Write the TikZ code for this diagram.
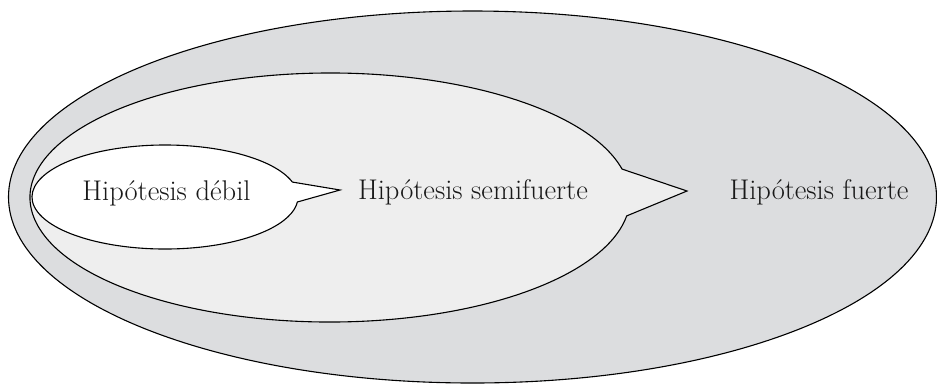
\documentclass[tikz,border=0pt]{standalone}
\begin{document}
\begin{tikzpicture}[x=1pt,y=-1pt,
  region/.style={draw=black,line width=1.1pt,line join=miter},
  lbl/.style={anchor=base,inner sep=0pt,font=\fontsize{28.5}{34}\selectfont,text=black!90}]
\definecolor{outerfill}{HTML}{DCDDDF}
\definecolor{midfill}{HTML}{EEEEEE}
\useasboundingbox (0,0) rectangle (937,384);
% outer ellipse
\draw[region,fill=outerfill] (472.5,197) ellipse[x radius=464,y radius=186];
% middle region with pointer
\draw[region,fill=midfill] (330,197.5) ++(-13.2:300 and 124.5)
  arc[start angle=-13.2,end angle=-351.5,x radius=300,y radius=124.5]
  -- (687,191) -- cycle;
% inner region with pointer
\draw[region,fill=white] (165,197) ++(-16.7:133 and 52)
  arc[start angle=-16.7,end angle=-354.5,x radius=133,y radius=52]
  -- (340,190) -- cycle;
\node[lbl] (debil) at (166.5,200) {Hipótesis débil};
\node[lbl] (semi) at (473,199) {Hipótesis semifuerte};
\node[lbl] (fuerte) at (819,199) {Hipótesis fuerte};
\end{tikzpicture}
\end{document}
